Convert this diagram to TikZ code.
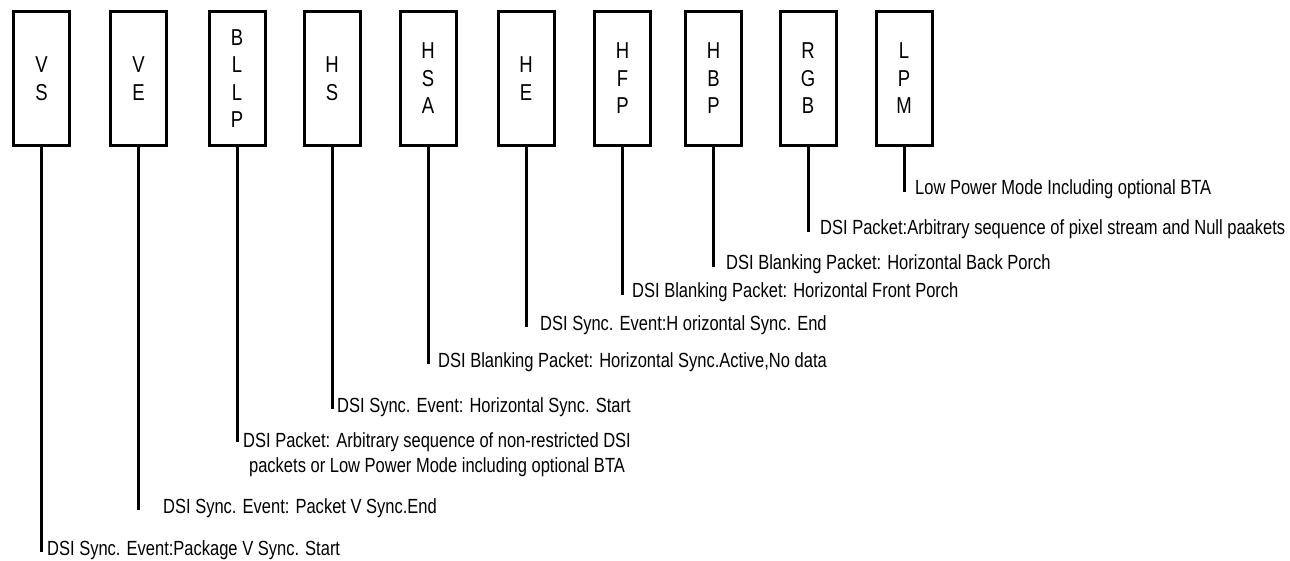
\documentclass[tikz,border=0pt]{standalone}
\usepackage{fontspec}
\setmainfont{Liberation Sans}[FakeStretch=0.805]
\usetikzlibrary{calc}
\tikzstyle{sigbox}=[draw,line width=3pt,minimum width=56pt,minimum height=134pt,inner sep=0pt,align=center,font=\fontsize{23}{27.5}\selectfont]
\tikzstyle{lead}=[draw,line width=3pt]
\tikzstyle{note}=[anchor=base west,inner sep=0pt,font=\fontsize{20.5}{25}\selectfont]

\begin{document}
\begin{tikzpicture}[x=1pt,y=-1pt]
\useasboundingbox (0,0) rectangle (1290,561);

% signal boxes
    \foreach \pos/\name/\txt in {{(41.5,78.5)/vs/{V\\S}}, {(138.5,78.5)/ve/{V\\E}}, {(237,78.5)/bllp/{B\\L\\L\\P}},
        {(332,78.5)/hs/{H\\S}}, {(428,78.5)/hsa/{H\\S\\A}}, {(526,78.5)/he/{H\\E}}, {(622.5,78.5)/hfp/{H\\F\\P}},
        {(713.5,78.5)/hbp/{H\\B\\P}}, {(808,78.5)/rgb/{R\\G\\B}}, {(904,78.5)/lpm/{L\\P\\M}}}
        \node[sigbox] (\name) at \pos {\txt};

% descriptions
  \node[note] (vs-txt) at (47,555) {DSI Sync. Event:Package V Sync. Start};
  \node[note] (ve-txt) at (163,513) {DSI Sync. Event: Packet V Sync.End};
  \node[note,align=center] (bllp-txt) at (243,472) {DSI Packet: Arbitrary sequence of non-restricted DSI\\packets or Low Power Mode including optional BTA};
  \node[note] (hs-txt) at (337,412) {DSI Sync. Event: Horizontal Sync. Start};
  \node[note] (hsa-txt) at (438,367) {DSI Blanking Packet: Horizontal Sync.Active,No data};
  \node[note] (he-txt) at (540,330) {DSI Sync. Event:H orizontal Sync. End};
  \node[note] (hfp-txt) at (632,298) {DSI Blanking Packet: Horizontal Front Porch};
  \node[note] (hbp-txt) at (726,270) {DSI Blanking Packet: Horizontal Back Porch};
  \node[note] (rgb-txt) at (820,235) {DSI Packet:Arbitrary sequence of pixel stream and Null paakets};
  \node[note] (lpm-txt) at (915,195) {Low Power Mode Including optional BTA};

% leads
    \foreach \name in {vs,ve,hs,hsa,he,hfp,hbp,rgb,lpm}
        \path[lead] (\name.south) -- (\name.south |- \name-txt.mid west);
  \coordinate (bllp-end) at ($(bllp.south |- bllp-txt.north west)+(0,10)$);
  \path[lead] (bllp.south) -- (bllp-end);

\end{tikzpicture}
\end{document}
